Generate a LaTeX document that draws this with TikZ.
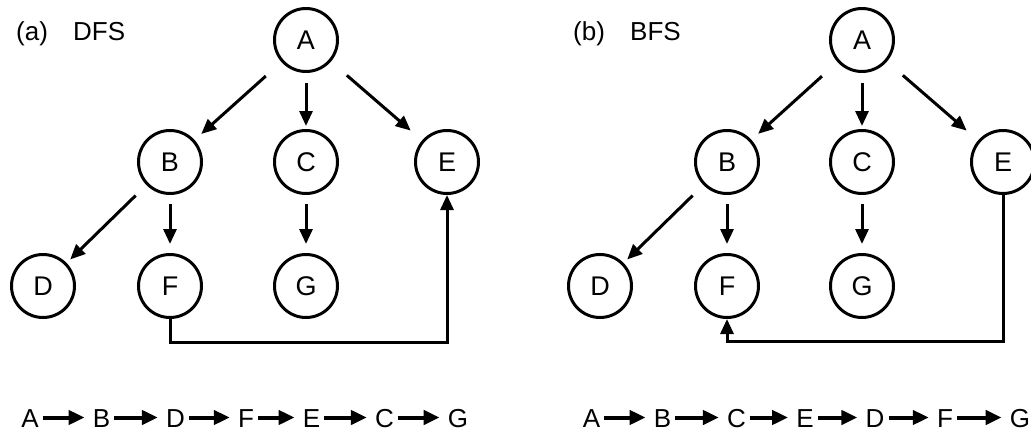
\documentclass[tikz,border=0pt]{standalone}
\usepackage{fontspec}
\setmainfont{Liberation Sans}
\usetikzlibrary{arrows.meta}
\begin{document}
\begin{tikzpicture}[x=1pt,y=-1pt,
  vert/.style={circle,draw,line width=3pt,minimum size=63pt,inner sep=0pt,font=\fontsize{27}{32}\selectfont},
  edge/.style={line width=3pt,-{Triangle[length=15pt,width=13pt]}},
  lbl/.style={anchor=base west,inner sep=0pt,font=\fontsize{26}{31}\selectfont},
  seq/.style={anchor=base,inner sep=0pt,text height=19pt,text depth=0pt,font=\fontsize{26}{31}\selectfont},
  seqarr/.style={line width=4pt,-{Triangle[length=16pt,width=14pt]},shorten <=4pt,shorten >=8pt}]
\useasboundingbox (0,0) rectangle (1031,431);
% ---------- (a) DFS ----------
\node[lbl] (la) at (16,40) {(a)};
\node[lbl] (ta) at (73,40) {DFS};
\node[vert] (A1) at (306,40) {A};
\node[vert] (B1) at (170,162) {B};
\node[vert] (C1) at (306,162) {C};
\node[vert] (E1) at (447,162) {E};
\node[vert] (D1) at (43,286) {D};
\node[vert] (F1) at (170,286) {F};
\node[vert] (G1) at (306,286) {G};
\draw[edge,shorten <=21pt,shorten >=9pt] (A1) -- (B1);
\draw[edge,shorten <=10pt,shorten >=3pt] (A1) -- (C1);
\draw[edge,shorten <=21pt,shorten >=15pt] (A1) -- (E1);
\draw[edge,shorten <=15pt,shorten >=5pt] (B1) -- (D1);
\draw[edge,shorten <=9pt,shorten >=9pt] (B1) -- (F1);
\draw[edge,shorten <=9pt,shorten >=9pt] (C1) -- (G1);
\coordinate (bot1) at (0,342);
\draw[edge] (F1.south) -- (F1.south |- bot1) -| (E1.south);
% sequence
\node[seq] (s1A) at (30,427) {A};
\node[seq] (s1B) at (101.5,427) {B};
\node[seq] (s1D) at (175.5,427) {D};
\node[seq] (s1F) at (246,427) {F};
\node[seq] (s1E) at (311.5,427) {E};
\node[seq] (s1C) at (384.5,427) {C};
\node[seq] (s1G) at (458,427) {G};
\draw[seqarr] (s1A.east) -- (s1B.west);
\draw[seqarr] (s1B.east) -- (s1D.west);
\draw[seqarr] (s1D.east) -- (s1F.west);
\draw[seqarr] (s1F.east) -- (s1E.west);
\draw[seqarr] (s1E.east) -- (s1C.west);
\draw[seqarr] (s1C.east) -- (s1G.west);
% ---------- (b) BFS ----------
\node[lbl] (lb) at (573,40) {(b)};
\node[lbl] (tb) at (630,40) {BFS};
\node[vert] (A2) at (862,40) {A};
\node[vert] (B2) at (727,162) {B};
\node[vert] (C2) at (862,162) {C};
\node[vert] (E2) at (1003,162) {E};
\node[vert] (D2) at (600,286) {D};
\node[vert] (F2) at (727,286) {F};
\node[vert] (G2) at (862,286) {G};
\draw[edge,shorten <=21pt,shorten >=9pt] (A2) -- (B2);
\draw[edge,shorten <=10pt,shorten >=3pt] (A2) -- (C2);
\draw[edge,shorten <=21pt,shorten >=15pt] (A2) -- (E2);
\draw[edge,shorten <=15pt,shorten >=5pt] (B2) -- (D2);
\draw[edge,shorten <=9pt,shorten >=9pt] (B2) -- (F2);
\draw[edge,shorten <=9pt,shorten >=9pt] (C2) -- (G2);
\coordinate (bot2) at (0,341);
\draw[edge] (E2.south) -- (E2.south |- bot2) -| (F2.south);
% sequence
\node[seq] (s2A) at (591.5,427) {A};
\node[seq] (s2B) at (662.5,427) {B};
\node[seq] (s2C) at (736.5,427) {C};
\node[seq] (s2E) at (805,427) {E};
\node[seq] (s2D) at (875,427) {D};
\node[seq] (s2F) at (945,427) {F};
\node[seq] (s2G) at (1020,427) {G};
\draw[seqarr] (s2A.east) -- (s2B.west);
\draw[seqarr] (s2B.east) -- (s2C.west);
\draw[seqarr] (s2C.east) -- (s2E.west);
\draw[seqarr] (s2E.east) -- (s2D.west);
\draw[seqarr] (s2D.east) -- (s2F.west);
\draw[seqarr] (s2F.east) -- (s2G.west);
\end{tikzpicture}
\end{document}
